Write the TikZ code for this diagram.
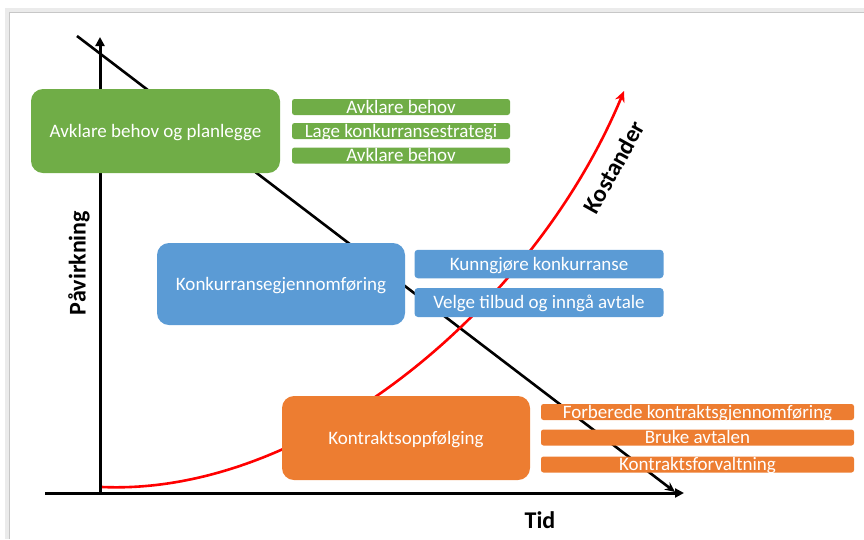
\documentclass[tikz,border=0pt]{standalone}
\usepackage{fontspec}
\setmainfont{Carlito}
\usetikzlibrary{arrows.meta}
\definecolor{phgreen}{HTML}{70AD47}
\definecolor{phblue}{HTML}{5B9BD5}
\definecolor{phorange}{HTML}{ED7D31}
\definecolor{costred}{HTML}{FF0000}
\tikzset{
  bigbox/.style={draw=none, rounded corners=12pt, inner sep=0pt,
    text=white, font=\fontsize{19}{22}\selectfont,
    text height=12.2pt, text depth=0pt},
  subbox/.style={draw=none, rounded corners=2.5pt, inner sep=0pt,
    text=white, font=\fontsize{19}{22}\selectfont,
    text height=12.2pt, text depth=0pt},
  axislabel/.style={font=\bfseries\fontsize{24}{28}\selectfont, text=black, inner sep=0pt},
  axisline/.style={line width=3pt, -{Triangle[length=9pt,width=9pt]}},
}
\begin{document}
\begin{tikzpicture}[x=1pt,y=-1pt]
  \useasboundingbox (0,0) rectangle (864,539);
  % page frame with soft shadow
  \draw[black!8, line width=4pt] (7,539) -- (7,10) -- (864,10);
  \draw[black!22, line width=1.4pt] (9.5,539) -- (9.5,12.5) -- (864,12.5);

  % axes
  \coordinate (yb) at (100,493);
  \coordinate (yt) at (100,37);
  \coordinate (xl) at (45,493);
  \coordinate (xr) at (684,493);
  \draw[axisline] (yb) -- (yt);
  \draw[axisline] (xl) -- (xr);

  % influence line
  \coordinate (infA) at (77,36);
  \coordinate (infB) at (675,492);
  \draw[line width=2.6pt, -{Stealth[length=10pt,width=9pt]}] (infA) -- (infB);

  % cost curve
  \coordinate (costA) at (102,487);
  \coordinate (costB) at (624,91);
  \draw[costred, line width=2.6pt, -{Stealth[length=11pt,width=10pt]}]
    (costA) .. controls (310,496) and (535,305) .. (costB);

  % phase 1
  \node[bigbox, fill=phgreen, minimum width=249pt, minimum height=84pt] (plan) at (155.5,131) {Avklare behov og planlegge};
  \node[subbox, fill=phgreen, minimum width=218pt, minimum height=16pt] (p1) at (401,107) {Avklare behov};
  \node[subbox, fill=phgreen, minimum width=218pt, minimum height=16pt] (p2) at (401,131) {Lage konkurransestrategi};
  \node[subbox, fill=phgreen, minimum width=218pt, minimum height=16pt] (p3) at (401,155.5) {Avklare behov};

  % phase 2
  \node[bigbox, fill=phblue, minimum width=248pt, minimum height=82pt] (comp) at (281,284) {Konkurransegjennomføring};
  \node[subbox, fill=phblue, rounded corners=3.5pt, minimum width=249pt, minimum height=28.5pt] (c1) at (539,264) {Kunngjøre konkurranse};
  \node[subbox, fill=phblue, rounded corners=3.5pt, minimum width=249pt, minimum height=29pt] (c2) at (539,302.5) {Velge tilbud og inngå avtale};

  % phase 3
  \node[bigbox, fill=phorange, minimum width=248pt, minimum height=84pt] (follow) at (406,438) {Kontraktsoppfølging};
  \node[subbox, fill=phorange, minimum width=313pt, minimum height=16pt] (f1) at (697.5,412) {Forberede kontraktsgjennomføring};
  \node[subbox, fill=phorange, minimum width=313pt, minimum height=16pt] (f2) at (697.5,437.5) {Bruke avtalen};
  \node[subbox, fill=phorange, minimum width=313pt, minimum height=16pt] (f3) at (697.5,464.5) {Kontraktsforvaltning};

  % labels
  \node[axislabel, rotate=90] (ylab) at (79,263) {Påvirkning};
  \node[axislabel] (xlab) at (540,520) {Tid};
  \node[axislabel, rotate=61] (clab) at (614,167) {Kostander};
\end{tikzpicture}
\end{document}
